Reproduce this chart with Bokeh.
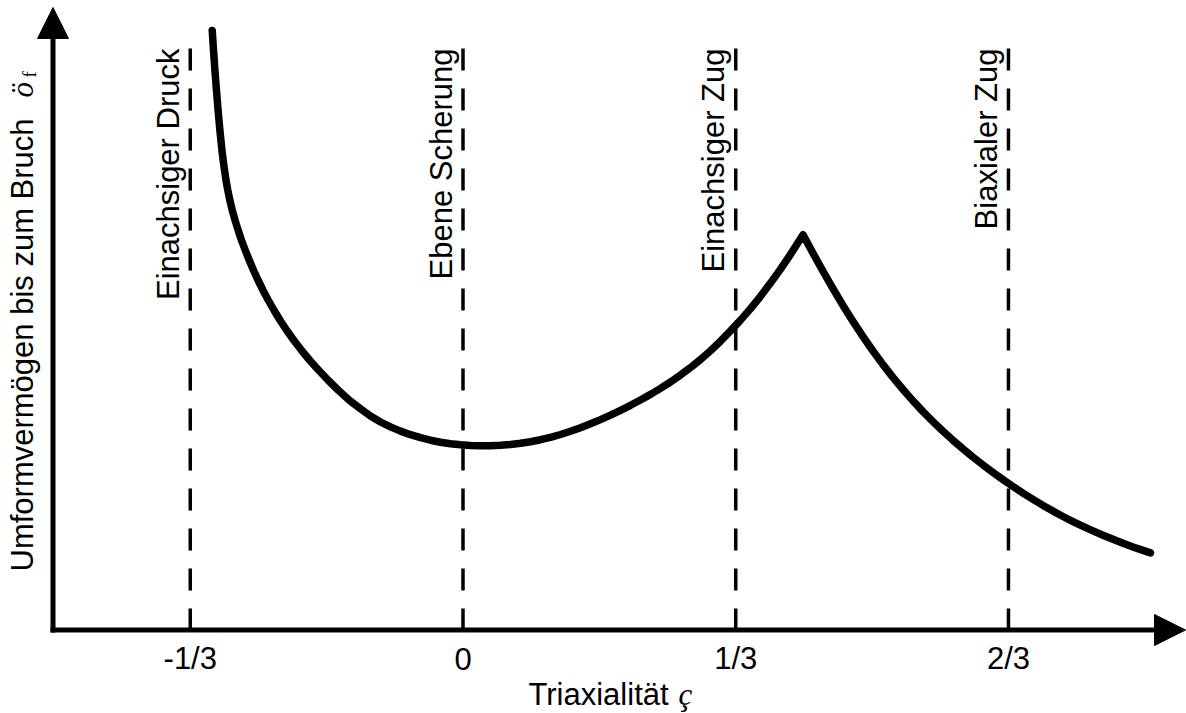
import numpy as np
from bokeh.plotting import figure
from bokeh.models import Arrow, NormalHead, ColumnDataSource, Range1d
from bokeh.core.properties import value
from bokeh.embed import file_html
from bokeh.resources import INLINE

# Strain to fracture over stress triaxiality (schematic, arbitrary strain units)
eta = [-0.3065, -0.3049, -0.3032, -0.3013, -0.2993, -0.2971, -0.2946, -0.2931,
       -0.2914, -0.2896, -0.2874, -0.2849, -0.2819, -0.2785, -0.2747, -0.2706,
       -0.2660, -0.2611, -0.2559, -0.2503, -0.2443, -0.2378, -0.2308, -0.2234,
       -0.2153, -0.2066, -0.1972, -0.1871, -0.1761, -0.1645, -0.1520, -0.1386,
       -0.1253, -0.1131, -0.1008, -0.0886, -0.0764, -0.0642, -0.0519, -0.0397,
       -0.0275, -0.0153, -0.0031, 0.0092, 0.0214, 0.0336, 0.0458, 0.0581,
       0.0703, 0.0825, 0.0947, 0.1069, 0.1192, 0.1314, 0.1436, 0.1558,
       0.1681, 0.1803, 0.1925, 0.2047, 0.2169, 0.2292, 0.2414, 0.2536,
       0.2658, 0.2781, 0.2903, 0.3025, 0.3147, 0.3269, 0.3392, 0.3514,
       0.3636, 0.3758, 0.3881, 0.4003, 0.4125, 0.4156,
       0.4278, 0.4400, 0.4522, 0.4644, 0.4767, 0.4889, 0.5011, 0.5133,
       0.5255, 0.5378, 0.5500, 0.5622, 0.5744, 0.5867, 0.5989, 0.6111,
       0.6233, 0.6355, 0.6478, 0.6600, 0.6722, 0.6844, 0.6967, 0.7089,
       0.7211, 0.7333, 0.7455, 0.7578, 0.7700, 0.7822, 0.7944, 0.8067,
       0.8189, 0.8311, 0.8403]
eps_f = [5.995, 5.795, 5.595, 5.395, 5.195, 4.995, 4.795, 4.695,
         4.595, 4.495, 4.395, 4.295, 4.195, 4.095, 3.995, 3.895,
         3.795, 3.695, 3.595, 3.495, 3.395, 3.295, 3.195, 3.095,
         2.995, 2.895, 2.795, 2.695, 2.595, 2.495, 2.395, 2.295,
         2.212, 2.140, 2.080, 2.031, 1.989, 1.953, 1.923, 1.898,
         1.878, 1.863, 1.852, 1.845, 1.842, 1.843, 1.847, 1.855,
         1.867, 1.883, 1.903, 1.927, 1.955, 1.987, 2.023, 2.062,
         2.104, 2.149, 2.197, 2.247, 2.300, 2.356, 2.416, 2.480,
         2.549, 2.624, 2.705, 2.793, 2.888, 2.991, 3.099, 3.214,
         3.337, 3.469, 3.609, 3.757, 3.913, 3.952,
         3.767, 3.587, 3.413, 3.246, 3.086, 2.934, 2.790, 2.654,
         2.526, 2.405, 2.291, 2.184, 2.084, 1.988, 1.897, 1.811,
         1.729, 1.651, 1.576, 1.504, 1.435, 1.369, 1.306, 1.246,
         1.189, 1.135, 1.084, 1.036, 0.991, 0.948, 0.907, 0.868,
         0.831, 0.796, 0.771]

# Characteristic load cases
case_eta = [-1 / 3, 0.0, 1 / 3, 2 / 3]
case_names = ["Einachsiger Druck", "Ebene Scherung", "Einachsiger Zug", "Biaxialer Zug"]
tick_labels = ["-1/3", "0", "1/3", "2/3"]

W, H = 1186, 713
X0_PX, SX = 462.5, 818.2     # pixel column of eta = 0, pixels per unit eta
Y0_PX, SY = 629.5, 100.0     # pixel row of the abscissa, pixels per strain unit


def xd(px):
    return (px - X0_PX) / SX


def yd(py):
    return (Y0_PX - py) / SY


p = figure(width=W, height=H, output_backend="svg", toolbar_location=None,
           x_axis_type=None, y_axis_type=None, min_border=0,
           x_range=Range1d(xd(0), xd(W)), y_range=Range1d(yd(H), yd(0)),
           outline_line_color=None, background_fill_color="white",
           border_fill_color="white")
p.grid.visible = False

SANS = value("Liberation Sans")
SERIF = value("Liberation Serif")
FS = "31px"

# dashed markers of the load cases
top = yd(48)
p.segment(x0=case_eta, y0=[top] * 4, x1=case_eta, y1=[0.0] * 4,
          line_color="black", line_width=3.5, line_dash="22 18", line_cap="butt")

label_x = [e - 22 / SX for e in case_eta]
cases = ColumnDataSource(dict(x=case_eta, lx=label_x, y=[top] * 4,
                              name=case_names, tick=tick_labels))
p.text(x="lx", y="y", text="name", source=cases, angle=np.pi / 2,
       text_align="right", text_baseline="alphabetic",
       text_font=SANS, text_font_size=FS, text_color="black")

# tick labels on the abscissa
p.text(x="x", y=yd(658), text="tick", source=cases, text_align="center",
       text_baseline="alphabetic", text_font=SANS, text_font_size=FS,
       text_color="black")

# fracture strain curve
p.line(eta, eps_f, line_color="black", line_width=7.5, line_join="round",
       line_cap="round")

# axes with arrow heads
head = dict(size=31, fill_color="black", line_color="black", line_width=1)
p.add_layout(Arrow(end=NormalHead(**head), x_start=xd(50), y_start=0.0,
                   x_end=xd(1185), y_end=0.0, line_width=5, line_color="black"))
p.add_layout(Arrow(end=NormalHead(**head), x_start=xd(52.5), y_start=yd(632),
                   x_end=xd(52.5), y_end=yd(7), line_width=5, line_color="black"))

# axis titles
p.text(x=[xd(528)], y=[yd(694)], text=["Triaxialität"], text_align="left",
       text_baseline="alphabetic", text_font=SANS, text_font_size=FS,
       text_color="black")
p.text(x=[xd(678)], y=[yd(694)], text=["ç"], text_align="left",
       text_baseline="alphabetic", text_font=SERIF, text_font_style="italic",
       text_font_size=FS, text_color="black")

p.text(x=[xd(22)], y=[yd(571)], text=["Umformvermögen bis zum Bruch"],
       angle=np.pi / 2, text_align="left", text_baseline="alphabetic",
       text_font=SANS, text_font_size=FS, text_color="black")
p.text(x=[xd(22)], y=[yd(97)], text=["ö"], angle=np.pi / 2, text_align="left",
       text_baseline="alphabetic", text_font=SERIF, text_font_style="italic",
       text_font_size=FS, text_color="black")
p.text(x=[xd(29)], y=[yd(77)], text=["f"], angle=np.pi / 2, text_align="left",
       text_baseline="alphabetic", text_font=SERIF, text_font_size="19px",
       text_color="black")

open("out.html", "w").write(file_html(p, INLINE))
